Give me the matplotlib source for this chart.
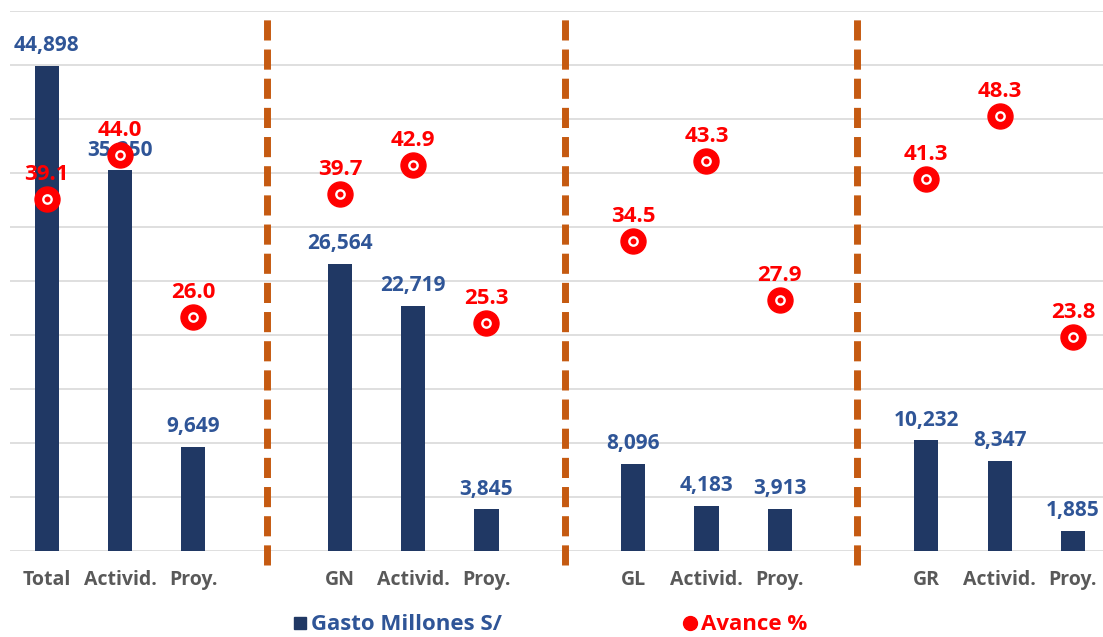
import numpy as np
import matplotlib
matplotlib.use("Agg")
import matplotlib.pyplot as plt
from matplotlib.lines import Line2D
import matplotlib.transforms as mtrans

categories = ['Total', 'Activid.', 'Proy.', '', 'GN', 'Activid.', 'Proy.', '',
              'GL', 'Activid.', 'Proy.', '', 'GR', 'Activid.', 'Proy.']
gasto = [44898, 35250, 9649, np.nan, 26564, 22719, 3845, np.nan,
         8096, 4183, 3913, np.nan, 10232, 8347, 1885]
avance = [39.1, 44.0, 26.0, np.nan, 39.7, 42.9, 25.3, np.nan,
          34.5, 43.3, 27.9, np.nan, 41.3, 48.3, 23.8]
separators = [3, 7.07, 11.06]

FONT = 'Open Sans'
BAR = '#203864'
BLUE = '#2F5597'
RED = '#FF0000'
ORANGE = '#C55A11'
GRID = '#D9D9D9'

W, H = 1103, 637
fig = plt.figure(figsize=(W / 100, H / 100), dpi=100)
ax = fig.add_axes([10 / W, 86 / H, 1093 / W, 540 / H])
x = np.arange(len(categories))

ax.bar(x, gasto, width=0.33, color=BAR, zorder=2)
for xi, v in zip(x, gasto):
    if not np.isnan(v):
        ax.annotate(f"{int(v):,}", (xi, v), xytext=(0, 14.5), textcoords='offset points',
                    ha='center', va='center', fontsize=15, fontweight='bold',
                    color=BLUE, family=FONT, zorder=3)

trans = mtrans.blended_transform_factory(ax.transData, ax.transAxes)
for sx in separators:
    ax.plot([sx, sx], [-0.026, 1.0], transform=trans, color=ORANGE, linewidth=5,
            dashes=(2.9, 1.3), clip_on=False, zorder=1, solid_capstyle='butt')

ax2 = ax.twinx()
ax2.set_ylim(0, 60)
ax2.set_xlim(-0.5, 14.41)
for s in ax2.spines.values():
    s.set_visible(False)
ax2.tick_params(axis='y', right=False, labelright=False, left=False, labelleft=False)
ax2.plot(x, avance, linestyle='none', marker='o', markersize=18,
         color=RED, markeredgecolor=RED, zorder=5)
ax2.plot(x, avance, linestyle='none', marker='o', markersize=6,
         markerfacecolor=RED, markeredgecolor='white', markeredgewidth=1.7, zorder=6)
for xi, v in zip(x, avance):
    if not np.isnan(v):
        ax2.annotate(f"{v:.1f}", (xi, v), xytext=(0, 17.5), textcoords='offset points',
                     ha='center', va='center', fontsize=16, fontweight='bold',
                     color=RED, family=FONT, zorder=7)

ax.set_xlim(-0.5, 14.41)
ax.set_ylim(0, 50000)
ax.set_yticks(np.arange(0, 50001, 5000))
ax.yaxis.grid(True, color=GRID, linewidth=1.2)
ax.set_axisbelow(True)
for s in ax.spines.values():
    s.set_visible(False)
ax.tick_params(axis='y', left=False, labelleft=False, right=False, labelright=False)
ax.tick_params(axis='x', length=0, pad=13.5)
ax.set_xticks(x)
ax.set_xticklabels(categories, fontsize=14, fontweight='bold', color='#595959', family=FONT)

handles = [Line2D([], [], linestyle='none', marker='s', markersize=9, color=BAR),
           Line2D([], [], linestyle='none', marker='o', markersize=10, color=RED)]
leg = fig.legend(handles, ['Gasto Millones S/', 'Avance %'], loc='center',
                 bbox_to_anchor=(549 / W, 1 - 625 / H), ncol=2, frameon=False,
                 handletextpad=0.05, columnspacing=8.0, handlelength=0.9,
                 prop={'family': FONT, 'weight': 'bold', 'size': 16},
                 labelcolor=[BLUE, RED])

fig.savefig('out.png', dpi=100)
